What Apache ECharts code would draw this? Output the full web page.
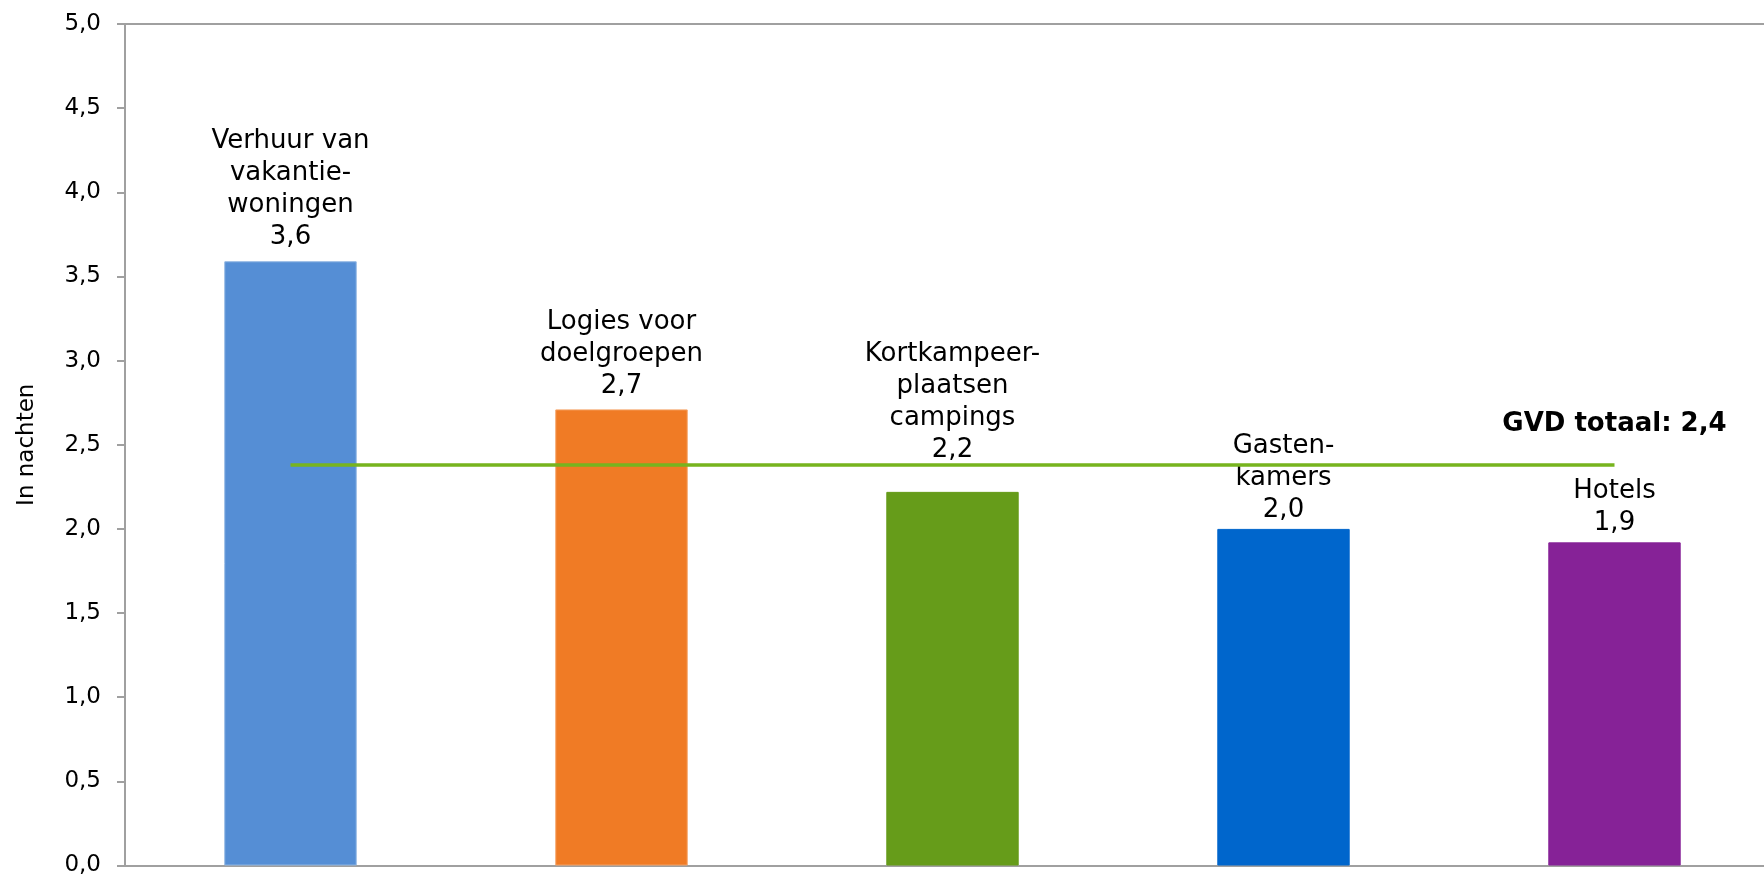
<!DOCTYPE html>
<html>
<head>
<meta charset="utf-8">
<script src="https://cdn.jsdelivr.net/npm/echarts@6/dist/echarts.min.js"></script>
<style>
  html, body { margin: 0; padding: 0; background: #fff; overflow: hidden; }
  /* plot loopt in het origineel iets voorbij de rechterrand */
  #chart { width: 1780px; height: 877px; }
</style>
</head>
<body>
<div id="chart"></div>
<script>
// categorieen en gemiddelde verblijfsduur (nachten)
const categories = [
  'Verhuur van\nvakantie-\nwoningen',
  'Logies voor\ndoelgroepen',
  'Kortkampeer-\nplaatsen\ncampings',
  'Gasten-\nkamers',
  'Hotels'
]
const values = [3.59, 2.71, 2.22, 2.0, 1.92]
const gvdTotaal = 2.38
const yTicks = [0, 0.5, 1, 1.5, 2, 2.5, 3, 3.5, 4, 4.5, 5]

const barColors = ['#558ed5', '#f07b25', '#669c1a', '#0066cc', '#862297']
const barBorders = ['#8db4e2', '#f5a062', '#669c1a', '#0066cc', '#862297']
// labels zijn in het origineel met de hand verschoven
const labelShift = [-1, 0, -19, 4, 4]

const fmt = v => v.toFixed(1).replace('.', ',')
const font = 'DejaVu Sans'
const axisGrey = '#a0a0a0'

var myChart = echarts.init(document.getElementById('chart'))

const barData = values.map((v, i) => ({
  value: v,
  itemStyle: { color: barColors[i], borderColor: barBorders[i], borderWidth: 1 },
  label: { offset: [0, labelShift[i]] }
}))

const option = {
  animation: false,
  grid: {
    left: 125,
    right: 0,
    top: 24,
    bottom: 9
  },
  xAxis: [
    {
      type: 'category',
      data: categories,
      boundaryGap: true,
      axisLine: { show: true, lineStyle: { color: axisGrey, width: 2 } },
      axisTick: { show: false },
      axisLabel: { show: false }
    },
    {
      type: 'category',
      position: 'top',
      data: categories,
      axisLine: { show: true, lineStyle: { color: axisGrey, width: 2 } },
      axisTick: { show: false },
      axisLabel: { show: false }
    }
  ],
  yAxis: {
    type: 'value',
    min: yTicks[0],
    max: yTicks[yTicks.length - 1],
    interval: 0.5,
    name: 'In nachten',
    nameLocation: 'middle',
    nameRotate: 90,
    nameGap: 86,
    nameTextStyle: { fontFamily: font, fontSize: 23, color: '#000' },
    axisLine: { show: true, lineStyle: { color: axisGrey, width: 2 } },
    axisTick: { show: true, inside: false, length: 8, lineStyle: { color: axisGrey, width: 2 } },
    splitLine: { show: false },
    axisLabel: {
      margin: 24,
      fontFamily: font,
      fontSize: 23,
      color: '#000',
      formatter: v => fmt(v)
    }
  },
  series: [
    {
      name: 'verblijfsduur',
      type: 'bar',
      barWidth: '40%',
      data: barData,
      label: {
        show: true,
        position: 'top',
        distance: 7,
        fontFamily: font,
        fontSize: 26,
        lineHeight: 32,
        color: '#000',
        align: 'center',
        formatter: p => categories[p.dataIndex] + '\n' + fmt(p.value)
      },
      z: 2
    },
    {
      name: 'GVD totaal',
      type: 'line',
      data: categories.map(() => gvdTotaal),
      symbol: 'circle',
      symbolSize: 0,
      showSymbol: true,
      lineStyle: { color: '#77b41e', width: 3.5 },
      z: 5,
      label: {
        show: true,
        position: 'top',
        distance: 28,
        fontFamily: font,
        fontSize: 26,
        fontWeight: 'bold',
        color: '#000',
        formatter: p => p.dataIndex === categories.length - 1 ? 'GVD totaal: ' + fmt(gvdTotaal) : ''
      }
    }
  ]
}

myChart.setOption(option)
</script>
</body>
</html>
